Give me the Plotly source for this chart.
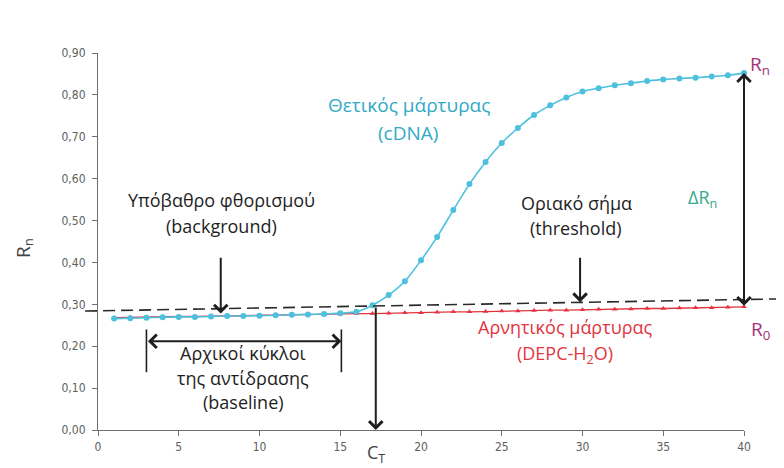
import plotly.graph_objects as go

# ---------------- data ----------------
cycles = list(range(1, 41))
positive_cdna = [0.266, 0.267, 0.268, 0.269, 0.270, 0.270, 0.271, 0.272, 0.272, 0.273,
                 0.274, 0.275, 0.276, 0.277, 0.279, 0.282, 0.298, 0.322, 0.355, 0.405,
                 0.461, 0.525, 0.587, 0.640, 0.685, 0.721, 0.752, 0.775, 0.794, 0.808,
                 0.816, 0.823, 0.828, 0.833, 0.837, 0.839, 0.841, 0.844, 0.847, 0.852]
negative_depc = [0.268, 0.269, 0.269, 0.270, 0.271, 0.271, 0.272, 0.272, 0.273, 0.274,
                 0.274, 0.275, 0.276, 0.276, 0.277, 0.278, 0.278, 0.279, 0.280, 0.280,
                 0.281, 0.282, 0.282, 0.283, 0.284, 0.284, 0.285, 0.286, 0.286, 0.287,
                 0.288, 0.288, 0.289, 0.290, 0.290, 0.291, 0.292, 0.292, 0.293, 0.294]
threshold_x = [-0.8, 42.2]
threshold_y = [0.284, 0.313]
ct_value = 17.2
baseline_cycles = [3.0, 15.07]
x_ticks = [0, 5, 10, 15, 20, 25, 30, 35, 40]
y_ticks = [0.0, 0.1, 0.2, 0.3, 0.4, 0.5, 0.6, 0.7, 0.8, 0.9]
X_RANGE = [0, 40]
Y_RANGE = [0, 0.9]

CYAN = "#4dc0de"
CYAN_TXT = "#33a9c6"
RED = "#e3343f"
BLACK = "#1e1e1e"
MAGENTA = "#a53278"
TEAL = "#38a68a"
AXIS = "#6f6f6f"
TXT_FONT = "Open Sans, Noto Sans, DejaVu Sans, sans-serif"
TICK_FONT = "Liberation Sans Narrow, DejaVu Sans Condensed, Liberation Sans, sans-serif"


def px_x(x):
    return (x - X_RANGE[0]) / (X_RANGE[1] - X_RANGE[0])


def px_y(y):
    return (y - Y_RANGE[0]) / (Y_RANGE[1] - Y_RANGE[0])


fig = go.Figure()

fig.add_trace(go.Scatter(
    x=cycles, y=negative_depc, mode="lines+markers",
    line=dict(color=RED, width=1.3),
    marker=dict(symbol="triangle-up", size=5, color=RED),
    cliponaxis=False, showlegend=False, hoverinfo="skip"))

fig.add_trace(go.Scatter(
    x=cycles, y=positive_cdna, mode="lines+markers",
    line=dict(color=CYAN, width=1.6, shape="spline", smoothing=0.6),
    marker=dict(symbol="circle", size=6, color=CYAN),
    cliponaxis=False, showlegend=False, hoverinfo="skip"))

# threshold dashed line (extends a bit beyond the axes, like the original)
fig.add_shape(type="line", xref="paper", yref="y",
              x0=px_x(threshold_x[0]), x1=px_x(threshold_x[1]),
              y0=threshold_y[0], y1=threshold_y[1],
              line=dict(color="#2a2a2a", width=1.6, dash="12px,6px"))

# baseline bracket end bars
for bx in baseline_cycles:
    fig.add_shape(type="line", xref="x", yref="y", x0=bx, x1=bx, y0=0.138, y1=0.240,
                  line=dict(color=BLACK, width=1.6))


def arrow(x, y, ax, ay, both=False):
    d = dict(x=x, y=y, ax=ax, ay=ay, xref="x", yref="y", axref="x", ayref="y",
             text="", showarrow=True, arrowhead=4, arrowsize=1.3, arrowwidth=2,
             arrowcolor=BLACK, standoff=0, startstandoff=0)
    if both:
        d.update(arrowside="end+start", startarrowhead=4, startarrowsize=1.3)
    fig.add_annotation(**d)


ct_top = threshold_y[0] + (threshold_y[1] - threshold_y[0]) * (ct_value - threshold_x[0]) / (threshold_x[1] - threshold_x[0])
arrow(7.6, 0.278, 7.6, 0.415)                 # background
arrow(29.85, 0.305, 29.85, 0.415)             # threshold
arrow(40, 0.852, 40, 0.293, both=True)        # delta Rn
arrow(ct_value, 0.0, ct_value, ct_top)        # CT
arrow(baseline_cycles[1], 0.212, baseline_cycles[0], 0.212, both=True)  # baseline


def label(x, y, text, color=BLACK, size=18, angle=0, paper=False):
    if paper:
        fig.add_annotation(x=px_x(x), y=px_y(y), xref="paper", yref="paper", text=text,
                           showarrow=False, font=dict(family=TXT_FONT, size=size, color=color),
                           textangle=angle, xanchor="center", yanchor="middle")
    else:
        fig.add_annotation(x=x, y=y, xref="x", yref="y", text=text, showarrow=False,
                           font=dict(family=TXT_FONT, size=size, color=color),
                           textangle=angle, xanchor="center", yanchor="middle")


label(7.62, 0.550, "Υπόβαθρο φθορισμού")
label(7.62, 0.486, "(background)")
label(8.98, 0.183, "Αρχικοί κύκλοι")
label(8.98, 0.124, "της αντίδρασης")
label(8.98, 0.066, "(baseline)")
label(29.6, 0.543, "Οριακό σήμα")
label(29.6, 0.483, "(threshold)")
label(19.26, 0.776, "Θετικός μάρτυρας", color=CYAN_TXT, size=19)
label(19.2, 0.708, "(cDNA)", color=CYAN_TXT, size=19)
label(28.9, 0.245, "Αρνητικός μάρτυρας", color=RED)
label(28.9, 0.181, "(DEPC-H<sub>2</sub>O)", color=RED)
label(37.4, 0.553, "ΔR<sub>n</sub>", color=TEAL)
label(41.0, 0.872, "R<sub>n</sub>", color=MAGENTA, size=19, paper=True)
label(41.0, 0.238, "R<sub>0</sub>", color=MAGENTA, size=19, paper=True)
label(-4.6, 0.434, "R<sub>n</sub>", color="#444", size=19, angle=-90, paper=True)
label(ct_value, -0.056, "C<sub>T</sub>", color="#444", size=18, paper=True)

fig.update_layout(
    width=784, height=468,
    margin=dict(l=90, r=48, t=45, b=46),
    paper_bgcolor="white", plot_bgcolor="white",
    separators=",.",
    showlegend=False,
    xaxis=dict(range=X_RANGE, tickvals=x_ticks, showgrid=False, zeroline=False,
               showline=True, linecolor=AXIS, linewidth=1.2,
               ticks="outside", ticklen=5, tickcolor=AXIS, tickwidth=1.2,
               tickfont=dict(family=TICK_FONT, size=12, color="#606060")),
    yaxis=dict(range=Y_RANGE, tickvals=y_ticks, tickformat=".2f", showgrid=False,
               zeroline=False, showline=True, linecolor=AXIS, linewidth=1.2,
               ticks="outside", ticklen=5, tickcolor=AXIS, tickwidth=1.2,
               ticklabelstandoff=4,
               tickfont=dict(family=TICK_FONT, size=12, color="#606060")),
)

fig.write_html("out.html")
